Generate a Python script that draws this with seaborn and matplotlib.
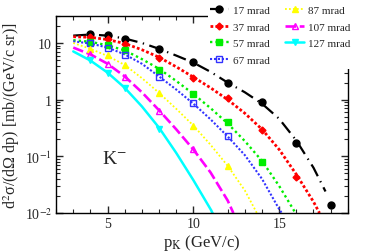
import numpy as np
import pandas as pd
import seaborn as sns
import matplotlib.pyplot as plt
from matplotlib.lines import Line2D
from matplotlib.patches import Rectangle
from matplotlib.ticker import MultipleLocator, LogLocator, NullFormatter

# measured points (p in GeV/c, cross section in mb/(GeV/c sr))
labels = ['17 mrad', '37 mrad', '57 mrad', '67 mrad', '87 mrad', '107 mrad', '127 mrad']

x_17 = [4, 5, 6, 8, 10, 12, 14, 16, 18]
y_17 = [14.6, 14.0, 11.6, 7.9, 4.6, 1.94, 0.90, 0.174, 0.0136]
x_37 = [4, 5, 6, 8, 10, 12, 14, 16]
y_37 = [12.7, 11.9, 9.7, 5.5, 2.46, 1.05, 0.29, 0.044]
x_57 = [4, 5, 6, 8, 10, 12, 14]
y_57 = [10.4, 9.4, 7.4, 3.4, 1.27, 0.40, 0.079]
x_67 = [4, 5, 6, 8, 10, 12]
y_67 = [9.8, 8.2, 6.1, 2.5, 0.87, 0.23]
x_87 = [4, 5, 6, 8, 10, 12]
y_87 = [7.9, 6.1, 4.05, 1.29, 0.345, 0.067]
x_107 = [4, 5, 6, 8, 10]
y_107 = [6.5, 4.3, 2.5, 0.64, 0.135]
x_127 = [4, 5, 6, 8]
y_127 = [5.0, 3.0, 1.6, 0.31]

# fitted curves
cx_17 = [3, 4, 5, 6, 7, 8, 9, 10, 11, 12, 13, 14, 15, 16, 17, 17.7]
cy_17 = [13.5, 14.1, 13.5, 12.0, 10.0, 7.9, 6.0, 4.5, 3.1, 2.0, 1.35, 0.85, 0.46, 0.19, 0.063, 0.024]
cx_37 = [3, 4, 5, 6, 7, 8, 9, 10, 11, 12, 13, 14, 15, 16, 17, 17.35]
cy_37 = [12.9, 12.6, 11.5, 9.8, 7.6, 5.6, 3.8, 2.5, 1.62, 1.0, 0.575, 0.30, 0.132, 0.048, 0.0158, 0.01]
cx_57 = [3, 4, 5, 6, 7, 8, 9, 10, 11, 12, 13, 14, 15, 15.95]
cy_57 = [11.2, 10.5, 9.1, 7.4, 5.2, 3.5, 2.14, 1.26, 0.71, 0.38, 0.186, 0.083, 0.030, 0.01]
cx_67 = [3, 4, 5, 6, 7, 8, 9, 10, 11, 12, 13, 14, 15, 15.15]
cy_67 = [10.7, 9.8, 8.3, 6.3, 4.3, 2.57, 1.51, 0.85, 0.45, 0.224, 0.105, 0.040, 0.0117, 0.01]
cx_87 = [3, 4, 5, 6, 7, 8, 9, 10, 11, 12, 13, 13.7]
cy_87 = [10.0, 7.9, 5.9, 4.1, 2.4, 1.32, 0.69, 0.35, 0.16, 0.068, 0.025, 0.01]
cx_107 = [3, 4, 5, 6, 7, 8, 9, 10, 11, 12, 12.33]
cy_107 = [8.3, 6.3, 4.3, 2.57, 1.35, 0.65, 0.30, 0.132, 0.052, 0.0166, 0.01]
cx_127 = [3, 4, 5, 6, 7, 8, 9, 10, 11, 11.12]
cy_127 = [7.1, 4.9, 3.0, 1.62, 0.76, 0.32, 0.115, 0.038, 0.0117, 0.01]

points = [(x_17, y_17), (x_37, y_37), (x_57, y_57), (x_67, y_67),
          (x_87, y_87), (x_107, y_107), (x_127, y_127)]
curves = [(cx_17, cy_17), (cx_37, cy_37), (cx_57, cy_57), (cx_67, cy_67),
          (cx_87, cy_87), (cx_107, cy_107), (cx_127, cy_127)]

colors = ['black', '#ff0000', '#00ee00', '#3333ff', '#ffff00', '#ff00ff', '#00ffff']
markers = ['o', 'D', 's', 's', '^', '^', 'v']
filled = [True, True, True, False, True, False, True]
styles = [(0, (6, 2.5, 0.6, 2.5)), (0, (1, 0.8)), (0, (1, 1.3)), (0, (1, 0.9)),
          (0, (1, 1.2)), (0, (4, 1.4)), '-']
widths = [1.6, 2.0, 1.7, 1.5, 1.3, 1.9, 1.8]
msizes = [5, 3.5, 5, 5, 5, 5, 5]

sns.set_style('ticks')
plt.rcParams['font.family'] = ['Liberation Serif', 'DejaVu Serif']
plt.rcParams['mathtext.fontset'] = 'stix'

fig = plt.figure(figsize=(3.74, 2.53), dpi=100)
ax = fig.add_axes([0.150, 0.154, 0.780, 0.779])

handles = []
for i in range(len(labels)):
    cx, cy = curves[i]
    sns.lineplot(x=cx, y=cy, ax=ax, color=colors[i], linestyle=styles[i],
                 linewidth=widths[i], sort=False, estimator=None)
    px, py = points[i]
    df = pd.DataFrame({'p': px, 'xs': py})
    fc = colors[i] if filled[i] else 'none'
    ax.plot(df['p'], df['xs'], linestyle='none', marker=markers[i],
            markersize=msizes[i], markerfacecolor=fc, markeredgecolor=colors[i],
            markeredgewidth=1.0, zorder=3)
    handles.append(Line2D([], [], color=colors[i], linestyle=styles[i], linewidth=widths[i],
                          marker=markers[i], markersize=msizes[i], markerfacecolor=fc,
                          markeredgecolor=colors[i]))

ax.set_yscale('log')
ax.set_xlim(2, 19)
ax.set_ylim(0.01, 30)
ax.xaxis.set_major_locator(MultipleLocator(5))
ax.xaxis.set_minor_locator(MultipleLocator(1))
ax.yaxis.set_major_locator(LogLocator(base=10))
ax.yaxis.set_minor_locator(LogLocator(base=10, subs=np.arange(2, 10)))
ax.yaxis.set_minor_formatter(NullFormatter())
ax.set_yticks([0.01, 0.1, 1, 10])
ax.set_yticklabels([r'10$^{-2}$', r'10$^{-1}$', '1', '10'])
ax.set_xticks([5, 10, 15])
ax.set_xticklabels(['5', '10', '15'])
ax.tick_params(which='both', direction='in', top=True, right=True, labelsize=10, pad=3)
ax.tick_params(which='major', length=5, width=1)
ax.tick_params(which='minor', length=3, width=0.8)
for s in ax.spines.values():
    s.set_linewidth(1.0)
    s.set_color('black')

ax.set_xlabel(r'p$_{\rm K}$ (GeV/c)', fontsize=12, labelpad=1)
ax.set_ylabel(r'd$^2$σ/(dΩ dp) [mb/(GeV/c sr)]', fontsize=11.5, labelpad=2)
ax.text(4.7, 0.09, r'K$^{-}$', fontsize=14, va='center', ha='left')

# white box behind the legend hides part of the frame
fig.patches.append(Rectangle((208 / 374, 1 - 70 / 253), 1, 1, transform=fig.transFigure,
                             facecolor='white', edgecolor='none', zorder=2))

leg = fig.legend(handles, labels, ncol=2, loc='upper left',
                 bbox_to_anchor=(0.545, 1.0), frameon=False, fontsize=8,
                 handlelength=1.7, handletextpad=0.35, columnspacing=1.4,
                 labelspacing=0.62, borderaxespad=0.15)
leg.set_zorder(5)

fig.savefig('out.png', dpi=100)
